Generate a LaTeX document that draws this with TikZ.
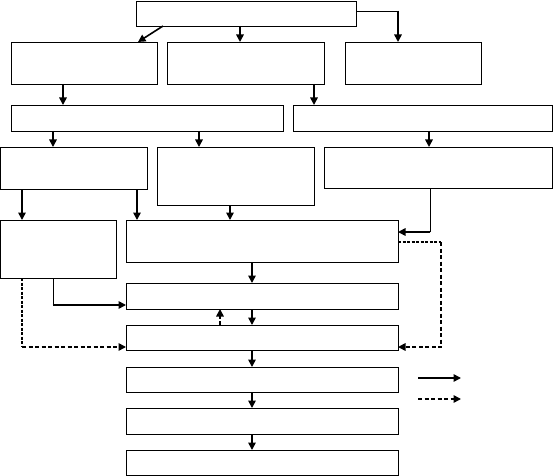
\documentclass[tikz,border=0pt]{standalone}
\usetikzlibrary{arrows.meta}
\begin{document}
\begin{tikzpicture}[x=1pt,y=-1pt,
  box/.style={draw,line width=0.8pt,inner sep=0pt,outer sep=0pt},
  thinline/.style={line width=0.9pt},
  thindash/.style={line width=1.1pt,dash pattern=on 3pt off 1.5pt},
  arr/.style={line width=1.6pt,-{Triangle[length=7.5pt,width=7.5pt]}},
  darr/.style={line width=1.6pt,dash pattern=on 4pt off 2.5pt,-{Triangle[length=7.5pt,width=7.5pt]}}]
\useasboundingbox (0,0) rectangle (554,476);
% boxes
\node[box,minimum width=220pt,minimum height=25pt] (A) at (246,13.5) {};
\node[box,minimum width=146pt,minimum height=42pt] (B1) at (84,63) {};
\node[box,minimum width=157pt,minimum height=42pt] (B2) at (245.5,63) {};
\node[box,minimum width=136pt,minimum height=42pt] (B3) at (413,63) {};
\node[box,minimum width=272pt,minimum height=26pt] (C1) at (147,118) {};
\node[box,minimum width=259pt,minimum height=26pt] (C2) at (422.5,118) {};
\node[box,minimum width=146.5pt,minimum height=42pt] (D1) at (73.75,168) {};
\node[box,minimum width=157pt,minimum height=58pt] (D2) at (235.5,176) {};
\node[box,minimum width=228pt,minimum height=41pt] (D3) at (438,167.5) {};
\node[box,minimum width=115.5pt,minimum height=58pt] (E1) at (58.25,249) {};
\node[box,minimum width=272pt,minimum height=42pt] (E2) at (262,241) {};
\node[box,minimum width=272pt,minimum height=26pt] (F1) at (262,296) {};
\node[box,minimum width=272pt,minimum height=25pt] (F2) at (262,337.5) {};
\node[box,minimum width=272pt,minimum height=25pt] (G1) at (262,379.5) {};
\node[box,minimum width=272pt,minimum height=26pt] (G2) at (262,421) {};
\node[box,minimum width=272pt,minimum height=25pt] (G3) at (262,462.5) {};
% helper coordinates
\coordinate (x22) at (22,0);
\coordinate (x53) at (53,0);
\coordinate (x63) at (63,0);
\coordinate (x137) at (137,0);
\coordinate (x138) at (138,0);
\coordinate (x163) at (163,0);
\coordinate (x199) at (199,0);
\coordinate (x220) at (220,0);
\coordinate (x230) at (230,0);
\coordinate (x240) at (240,0);
\coordinate (x252) at (252,0);
\coordinate (x314) at (314,0);
\coordinate (x398) at (398,0);
\coordinate (x429) at (429,0);
\coordinate (cA) at (398,11);
\coordinate (cD) at (430,232);
\coordinate (cE) at (53,305);
\coordinate (cE2) at (22,347);
\coordinate (k1) at (441,242);
\coordinate (k2) at (441,347);
\coordinate (L1s) at (418,378);
\coordinate (L1e) at (461,378);
\coordinate (L2s) at (418,399);
\coordinate (L2e) at (461,399);
% solid arrows
\draw[arr] (A.south -| x163) -- (B1.north -| x138);
\draw[arr] (A.south -| x240) -- (B2.north -| x240);
\draw[thinline] (A.east |- cA) -- (cA);
\draw[arr] ([yshift=0.45pt]cA) -- (B3.north -| cA);
\draw[arr] (B1.south -| x63) -- (C1.north -| x63);
\draw[arr] (B2.south -| x314) -- (C2.north -| x314);
\draw[arr] (C1.south -| x53) -- (D1.north -| x53);
\draw[arr] (C1.south -| x199) -- (D2.north -| x199);
\draw[arr] (C2.south -| x429) -- (D3.north -| x429);
\draw[arr] (D1.south -| x22) -- (E1.north -| x22);
\draw[arr] (D1.south -| x137) -- (E2.north -| x137);
\draw[arr] (D2.south -| x230) -- (E2.north -| x230);
\draw[thinline] (D3.south -| cD) -- (cD);
\draw[arr] ([xshift=0.45pt]cD) -- (E2.east |- cD);
\draw[arr] (E2.south -| x252) -- (F1.north -| x252);
\draw[arr] (F1.south -| x252) -- (F2.north -| x252);
\draw[arr] (F2.south -| x252) -- (G1.north -| x252);
\draw[arr] (G1.south -| x252) -- (G2.north -| x252);
\draw[arr] (G2.south -| x252) -- (G3.north -| x252);
\draw[thinline] (E1.south -| cE) -- (cE);
\draw[arr] ([xshift=-0.45pt]cE) -- (F1.west |- cE);
% dashed arrows
\draw[thindash] (E2.east |- k1) -- (k1);
\draw[darr] (k1) -- (k2) -- (F2.east |- k2);
\draw[thindash] (E1.south -| cE2) -- (cE2);
\draw[darr] (cE2) -- (F2.west |- cE2);
\draw[darr] (F2.north -| x220) -- (F1.south -| x220);
% legend
\draw[arr] (L1s) -- (L1e);
\draw[darr] (L2s) -- (L2e);
\end{tikzpicture}
\end{document}
